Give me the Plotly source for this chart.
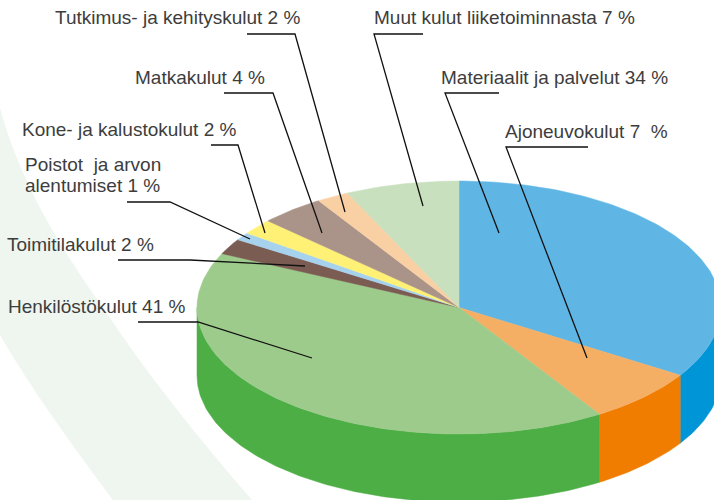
import math
import plotly.graph_objects as go

# data
labels = ["Materiaalit ja palvelut", "Ajoneuvokulut", "Henkilöstökulut", "Toimitilakulut",
          "Poistot ja arvon alentumiset", "Kone- ja kalustokulut", "Matkakulut",
          "Tutkimus- ja kehityskulut", "Muut kulut liiketoiminnasta"]
shares = [34, 7, 41, 2, 1, 2, 4, 2, 7]
top_colors = ["#5FB6E4", "#F5AF65", "#9DCB8B", "#7B5C52", "#A6D2EE", "#FFF176", "#AA9489", "#F9D0A4", "#C8E0BE"]
side_colors = ["#0095D6", "#F07D00", "#4CAE45", "#7B5C52", "#A6D2EE", "#FFF176", "#AA9489", "#F9D0A4", "#C8E0BE"]
label_texts = ["Materiaalit ja palvelut 34 %", "Ajoneuvokulut 7\u00a0 %", "Henkilöstökulut 41 %",
               "Toimitilakulut 2 %", "Poistot\u00a0 ja arvon", "alentumiset 1 %", "Kone- ja kalustokulut 2 %",
               "Matkakulut 4 %", "Tutkimus- ja kehityskulut 2 %", "Muut kulut liiketoiminnasta 7 %"]
label_x = [441, 505, 8, 7, 25, 25, 22, 135, 55, 374]
label_y = [77, 131, 306, 244, 164.5, 185.5, 129, 77, 17, 17]
leaders = [
    [(499, 93), (445, 93), (499, 233)],
    [(588, 147), (506, 147), (587, 358)],
    [(138, 322), (198, 322), (312, 358)],
    [(118, 260), (190, 260), (305, 266)],
    [(127, 202), (170, 202), (250, 239)],
    [(211, 145), (238, 145), (265, 233)],
    [(224, 93), (273, 93), (322, 233)],
    [(247, 34), (295, 34), (345, 212)],
    [(423, 34), (374, 34), (423, 206)],
]

# pie geometry in page pixels
CX, CY, RX, RY, DEPTH = 459, 307.5, 262, 126.5, 68


def rim(deg):
    a = math.radians(deg)
    return CX + RX * math.sin(a), CY - RY * math.cos(a)


def arc(start, end):
    n = max(2, int(abs(end - start)) + 2)
    return [rim(start + (end - start) * i / (n - 1)) for i in range(n)]


fig = go.Figure()

# pale decorative band behind the chart
band = ("M0,108 C22,190 70,262 110,318 C150,378 205,446 252,500 "
        "L113,500 C72,445 32,390 0,335 Z")
fig.add_shape(type="path", path=band, fillcolor="#EFF5EF", line_width=0, layer="below",
              xref="x", yref="y")

total = sum(shares)
bounds = [0]
for s in shares:
    bounds.append(bounds[-1] + s / total * 360)

# front walls: only the part between 90 and 270 degrees faces the viewer
for i in range(len(shares)):
    a, b = max(bounds[i], 90), min(bounds[i + 1], 270)
    if b <= a:
        continue
    pts = arc(a, b)
    xs = [p[0] for p in pts] + [p[0] for p in reversed(pts)]
    ys = [p[1] for p in pts] + [p[1] + DEPTH for p in reversed(pts)]
    fig.add_trace(go.Scatter(x=xs + xs[:1], y=ys + ys[:1], mode="lines", fill="toself",
                             fillcolor=side_colors[i], line=dict(width=0.5, color=side_colors[i]),
                             hoverinfo="skip", showlegend=False))

# top face
for i in range(len(shares)):
    pts = arc(bounds[i], bounds[i + 1])
    xs = [CX] + [p[0] for p in pts] + [CX]
    ys = [CY] + [p[1] for p in pts] + [CY]
    fig.add_trace(go.Scatter(x=xs, y=ys, mode="lines", fill="toself", name=labels[i],
                             fillcolor=top_colors[i], line=dict(width=0.5, color=top_colors[i]),
                             showlegend=False))

# leader lines
for seg in leaders:
    fig.add_trace(go.Scatter(x=[p[0] for p in seg], y=[p[1] for p in seg], mode="lines",
                             line=dict(width=1.3, color="#111111"),
                             hoverinfo="skip", showlegend=False))

for t, x, y in zip(label_texts, label_x, label_y):
    fig.add_annotation(x=x, y=y, text=t, showarrow=False, xanchor="left", yanchor="middle", align="left",
                       borderpad=0, borderwidth=0,
                       font=dict(family="Liberation Sans", size=19, color="#3D3D3D"))

fig.update_xaxes(range=[0, 714], visible=False, fixedrange=True)
fig.update_yaxes(range=[500, 0], visible=False, fixedrange=True)
fig.update_layout(width=714, height=500, margin=dict(l=0, r=0, t=0, b=0),
                  paper_bgcolor="white", plot_bgcolor="white", showlegend=False)
fig.write_html("out.html", config={"displayModeBar": False},
               post_script="document.documentElement.style.overflow='hidden';document.body.style.margin='0';")
